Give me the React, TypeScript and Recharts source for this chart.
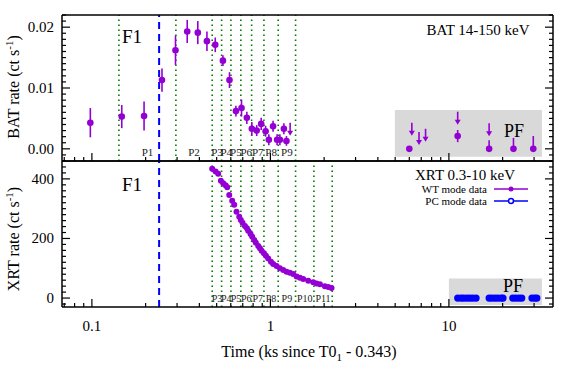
import { ScatterChart, Scatter, XAxis, YAxis, ErrorBar, ReferenceLine, ReferenceArea } from "recharts";

const SERIF = '"Liberation Serif", "DejaVu Serif", serif';
const PURPLE = "#9400d3";
const BLUE = "#0000ff";
const GREEN = "#007a00";
const GREY = "#d9d9d9";

// BAT 14-150 keV (ks, ct/s)
const batTime = [0.098, 0.147, 0.196, 0.247, 0.294, 0.342, 0.392, 0.441, 0.491, 0.542, 0.59, 0.641, 0.689, 0.738, 0.787, 0.838, 0.888, 0.94, 0.98, 1.035, 1.09, 1.13, 1.19, 1.23];
const batRate = [0.0043, 0.0053, 0.0054, 0.0113, 0.0162, 0.0193, 0.0191, 0.0177, 0.0171, 0.0145, 0.0113, 0.0062, 0.0067, 0.0051, 0.0033, 0.003, 0.0041, 0.0029, 0.0015, 0.0037, 0.0015, 0.0015, 0.0033, 0.0013];
const batErr = [0.0024, 0.0019, 0.0024, 0.0019, 0.0024, 0.0019, 0.0019, 0.0016, 0.0012, 0.0009, 0.0013, 0.0009, 0.0014, 0.001, 0.0011, 0.0009, 0.001, 0.0009, 0.0009, 0.0009, 0.0009, 0.0009, 0.0009, 0.0008];

// BAT late points (PF)
const batPfTime = [6.0, 11.2, 16.8, 23.0, 29.7];
const batPfRate = [0, 0.0021, 0, 0, 0];
const batPfErrLow = [0.0002, 0.001, 0, 0, 0];
const batPfErrHigh = [0.0002, 0.001, 0.0014, 0.0018, 0.0021];

// BAT upper limits
const batUlTime = [1.29, 6.2, 6.8, 7.4, 11.2, 16.8];
const batUlRate = [0.0043, 0.0043, 0.00275, 0.0033, 0.0061, 0.0042];

// XRT WT mode
const wtTime = [0.472, 0.493, 0.51, 0.528, 0.544, 0.561, 0.573, 0.588, 0.611, 0.627, 0.646, 0.669, 0.683, 0.698, 0.72, 0.739, 0.751, 0.774, 0.791, 0.812, 0.829, 0.855, 0.874, 0.893, 0.92, 0.944, 0.972, 1.007, 1.037, 1.083, 1.13, 1.18, 1.232, 1.286, 1.342, 1.402, 1.464, 1.527, 1.629, 1.738, 1.814, 1.894, 2.02, 2.109, 2.201];
const wtRate = [434, 425, 417, 394, 385, 379, 372, 346, 327, 313, 290, 273, 262, 253, 242, 234, 226, 215, 206, 195, 186, 175, 167, 159, 150, 142, 133, 122, 114, 108, 100, 94, 88, 85, 81, 72, 68, 64, 58, 53, 49, 46, 40, 37, 34];

// XRT PC mode
const pcTime = [11.2, 11.7, 12.1, 12.6, 13.1, 13.6, 14.2, 16.8, 17.4, 18.1, 18.8, 19.6, 20.1, 22.8, 23.7, 24.7, 25.6, 29.2, 30.3, 31.1];
const pcRate = pcTime.map(() => 0);

// period boundaries and labels
const periodEdges = [0.1417, 0.2955, 0.472, 0.533, 0.601, 0.683, 0.785, 0.92, 1.106, 1.384, 1.753, 2.219];
const periodNames = ["P1", "P2", "P3", "P4", "P5", "P6", "P7", "P8", "P9", "P10", "P11"];
const periodLabelTime = [0.205, 0.373, 0.502, 0.566, 0.641, 0.732, 0.85, 1.009, 1.237, 1.557, 1.972];
const flareTime = 0.238;

// axes
const xDomain = [0.068, 38.3];
const xMajor = [0.1, 1, 10];
const xMajorLabels = ["0.1", "1", "10"];
const xMinor = [0.07, 0.08, 0.09, 0.2, 0.3, 0.4, 0.5, 0.6, 0.7, 0.8, 0.9, 2, 3, 4, 5, 6, 7, 8, 9, 20, 30];
const batDomain = [-0.002, 0.022];
const batMajor = [0, 0.01, 0.02];
const batMajorLabels = ["0.00", "0.01", "0.02"];
const xrtDomain = [-30, 460];
const xrtMajor = [0, 200, 400];
const xrtMajorLabels = ["0", "200", "400"];

const steps = (a: number, b: number, s: number) => {
  const out: number[] = [];
  for (let v = a; v <= b + s / 2; v += s) out.push(Math.round(v * 1e6) / 1e6);
  return out;
};
const xTicks = [...xMajor, ...xMinor].sort((a, b) => a - b);
const batTicks = steps(-0.002, 0.022, 0.001);
const xrtTicks = steps(-20, 440, 20);

const batData = batTime.map((t, i) => ({ t, v: batRate[i], err: batErr[i] }));
const batPfData = batPfTime.map((t, i) => ({ t, v: batPfRate[i], err: [batPfErrLow[i], batPfErrHigh[i]] }));
const batUlData = batUlTime.map((t, i) => ({ t, v: batUlRate[i] }));
const wtData = wtTime.map((t, i) => ({ t, v: wtRate[i] }));
const pcData = pcTime.map((t, i) => ({ t, v: pcRate[i] }));
const topLabels = periodNames.slice(0, 9).map((label, i) => ({ t: periodLabelTime[i], v: -0.0005, label }));
const botLabels = periodNames.slice(2).map((label, i) => ({ t: periodLabelTime[i + 2], v: 0, label }));

const findMajor = (v: number, majors: number[]) =>
  majors.findIndex((m) => (m === 0 ? Math.abs(v) < 1e-9 : Math.abs(v / m - 1) < 1e-6));

const xTick = (dir: number, labels: boolean) => (p: any) => {
  const k = findMajor(p.payload.value, xMajor);
  const len = k >= 0 ? 8 : 4;
  return (
    <g>
      <line x1={p.x} y1={p.y} x2={p.x} y2={p.y + dir * len} stroke="#000" strokeWidth={1.2} />
      {labels && k >= 0 && (
        <text x={p.x} y={p.y + 24} textAnchor="middle" fontSize={15} fontFamily={SERIF} fill="#000">
          {xMajorLabels[k]}
        </text>
      )}
    </g>
  );
};

const yTick = (dir: number, majors: number[], names: string[] | null) => (p: any) => {
  const k = findMajor(p.payload.value, majors);
  const len = k >= 0 ? 8 : 4;
  return (
    <g>
      <line x1={p.x} y1={p.y} x2={p.x + dir * len} y2={p.y} stroke="#000" strokeWidth={1.2} />
      {names && k >= 0 && (
        <text x={p.x - 8} y={p.y} dy={5} textAnchor="end" fontSize={15} fontFamily={SERIF} fill="#000">
          {names[k]}
        </text>
      )}
    </g>
  );
};

const arrow = (p: any) => (
  <g>
    <line x1={p.cx} y1={p.cy} x2={p.cx} y2={p.cy + 9} stroke={PURPLE} strokeWidth={1.6} />
    <polygon points={`${p.cx - 3},${p.cy + 8} ${p.cx + 3},${p.cy + 8} ${p.cx},${p.cy + 13}`} fill={PURPLE} />
  </g>
);

const periodText = (size: number) => (p: any) => (
  <text x={p.cx} y={p.cy} dy={4} textAnchor="middle" fontSize={size} fontFamily={SERIF} fill="#222">
    {p.payload.label}
  </text>
);

const axisLine = { stroke: "#000", strokeWidth: 1.5 };

function Axes({ yDomain, yTicks, majors, names, labels }: any) {
  return [
    <XAxis key="xb" xAxisId={0} dataKey="t" type="number" scale="log" domain={xDomain} allowDataOverflow ticks={xTicks} interval={0} height={1} tickSize={0} tickMargin={0} tickLine={false} axisLine={axisLine} tick={xTick(-1, labels)} />,
    <XAxis key="xt" xAxisId="top" orientation="top" type="number" scale="log" domain={xDomain} allowDataOverflow ticks={xTicks} interval={0} height={1} tickSize={0} tickMargin={0} tickLine={false} axisLine={axisLine} tick={xTick(1, false)} />,
    <YAxis key="yl" yAxisId={0} dataKey="v" type="number" domain={yDomain} allowDataOverflow ticks={yTicks} interval={0} width={1} tickSize={0} tickMargin={0} tickLine={false} axisLine={axisLine} tick={yTick(1, majors, names)} />,
    <YAxis key="yr" yAxisId="r" orientation="right" type="number" domain={yDomain} allowDataOverflow ticks={yTicks} interval={0} width={1} tickSize={0} tickMargin={0} tickLine={false} axisLine={axisLine} tick={yTick(-1, majors, null)} />,
  ];
}

const dotted = { stroke: GREEN, strokeWidth: 1.6, strokeDasharray: "1.6 3.4" };

export default function App() {
  const layer: React.CSSProperties = { position: "absolute", left: 0, top: 0 };
  return (
    <div style={{ position: "fixed", left: 0, top: 0, width: 570, height: 365, background: "#fff" }}>
      <div style={layer}>
        <ScatterChart width={570} height={365} margin={{ top: 14, right: 16, bottom: 203, left: 61 }}>
          {Axes({ yDomain: batDomain, yTicks: batTicks, majors: batMajor, names: batMajorLabels, labels: false })}
          <ReferenceArea x1={4.98} x2={33.2} y1={-0.0013} y2={0.0064} fill={GREY} fillOpacity={1} stroke="none" />
          {periodEdges.slice(0, 10).map((t) => (
            <ReferenceLine key={t} x={t} {...dotted} />
          ))}
          <ReferenceLine x={flareTime} stroke={BLUE} strokeWidth={2} strokeDasharray="7 5" />
          <Scatter data={topLabels} shape={periodText(11)} isAnimationActive={false} />
          <Scatter data={batData} fill={PURPLE} shape={(p: any) => <circle cx={p.cx} cy={p.cy} r={3.3} fill={PURPLE} />} isAnimationActive={false}>
            <ErrorBar dataKey="err" direction="y" width={0} stroke={PURPLE} strokeWidth={1.6} />
          </Scatter>
          <Scatter data={batPfData} fill={PURPLE} shape={(p: any) => <circle cx={p.cx} cy={p.cy} r={3.3} fill={PURPLE} />} isAnimationActive={false}>
            <ErrorBar dataKey="err" direction="y" width={0} stroke={PURPLE} strokeWidth={1.6} />
          </Scatter>
          <Scatter data={batUlData} shape={arrow} isAnimationActive={false} />
        </ScatterChart>
      </div>
      <div style={layer}>
        <ScatterChart width={570} height={365} margin={{ top: 160, right: 16, bottom: 57, left: 61 }}>
          {Axes({ yDomain: xrtDomain, yTicks: xrtTicks, majors: xrtMajor, names: xrtMajorLabels, labels: true })}
          <ReferenceArea x1={10} x2={33.2} y1={-23} y2={66} fill={GREY} fillOpacity={1} stroke="none" />
          {periodEdges.slice(2).map((t) => (
            <ReferenceLine key={t} x={t} {...dotted} />
          ))}
          <ReferenceLine x={flareTime} stroke={BLUE} strokeWidth={2} strokeDasharray="7 5" />
          <Scatter data={botLabels} shape={periodText(10)} isAnimationActive={false} />
          <Scatter data={wtData} shape={(p: any) => <circle cx={p.cx} cy={p.cy} r={3} fill={PURPLE} />} isAnimationActive={false} />
          <Scatter data={pcData} shape={(p: any) => <circle cx={p.cx} cy={p.cy} r={3.6} fill={BLUE} />} isAnimationActive={false} />
        </ScatterChart>
      </div>
      <svg style={{ ...layer, pointerEvents: "none" }} width={570} height={365} fontFamily={SERIF}>
        <text x={122} y={43} fontSize={19}>F1</text>
        <text x={122} y={191} fontSize={19}>F1</text>
        <text x={478} y={35} fontSize={15} textAnchor="middle">BAT 14-150 keV</text>
        <text x={504} y={137} fontSize={18}>PF</text>
        <text x={503} y={292} fontSize={18}>PF</text>
        <text x={465} y={180} fontSize={15} textAnchor="middle">XRT 0.3-10 keV</text>
        <text x={487} y={193} fontSize={11} textAnchor="end">WT mode data</text>
        <line x1={494} y1={189} x2={528} y2={189} stroke={PURPLE} strokeWidth={1.5} />
        <circle cx={511} cy={189} r={2.5} fill={PURPLE} />
        <text x={487} y={205} fontSize={11} textAnchor="end">PC mode data</text>
        <line x1={494} y1={201} x2={528} y2={201} stroke={BLUE} strokeWidth={1.5} />
        <circle cx={511} cy={201} r={2.5} fill="#fff" stroke={BLUE} strokeWidth={1.5} />
        <text transform="translate(19,87) rotate(-90)" fontSize={16} textAnchor="middle">
          BAT rate (ct s<tspan dy={-6} fontSize={11}>-1</tspan>
          <tspan dy={6}>)</tspan>
        </text>
        <text transform="translate(19,239) rotate(-90)" fontSize={16} textAnchor="middle">
          XRT rate (ct s<tspan dy={-6} fontSize={11}>-1</tspan>
          <tspan dy={6}>)</tspan>
        </text>
        <text x={309} y={357} fontSize={16} textAnchor="middle">
          Time (ks since T0<tspan dy={4} fontSize={11}>1</tspan>
          <tspan dy={-4}> - 0.343)</tspan>
        </text>
      </svg>
    </div>
  );
}
